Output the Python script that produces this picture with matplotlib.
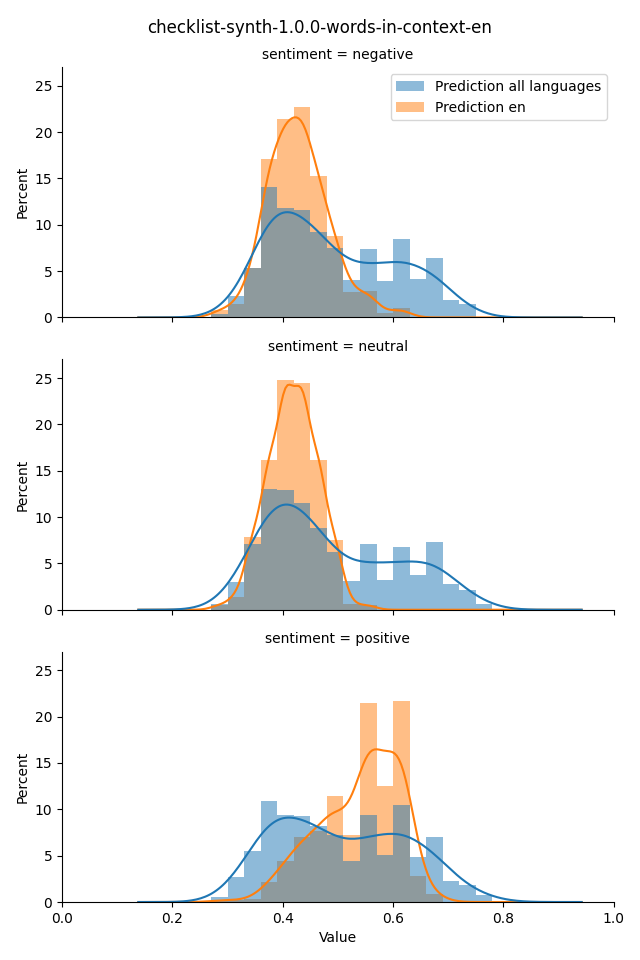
import numpy as np
import pandas as pd
import matplotlib
matplotlib.use("Agg")
import matplotlib.pyplot as plt
import seaborn as sns

# bins shared by every facet
bin_edges = [0.27, 0.30, 0.33, 0.36, 0.39, 0.42, 0.45, 0.48, 0.51, 0.54,
             0.57, 0.60, 0.63, 0.66, 0.69, 0.72, 0.75, 0.78, 0.81]

sentiments = ["negative", "neutral", "positive"]
hue_labels = ["Prediction all languages", "Prediction en"]

# percent per bin
all_negative = [0.4, 2.3, 5.3, 14.0, 11.8, 11.5, 9.2, 7.5, 4.0, 7.4, 3.9, 8.4, 4.1, 6.4, 1.9, 1.4, 0.0, 0.0]
en_negative = [0.8, 1.5, 5.4, 17.2, 21.5, 22.8, 15.3, 8.8, 2.8, 2.9, 0.5, 1.0, 0.0, 0.0, 0.0, 0.0, 0.0, 0.0]

all_neutral = [0.6, 2.9, 7.0, 12.8, 12.7, 11.3, 8.7, 6.1, 3.0, 7.0, 3.1, 6.7, 3.7, 7.2, 2.7, 2.1, 0.65, 0.0]
en_neutral = [0.5, 1.4, 7.8, 16.0, 24.5, 24.2, 16.0, 7.5, 0.6, 0.5, 0.0, 0.0, 0.0, 0.0, 0.0, 0.0, 0.0, 0.0]

all_positive = [0.5, 2.7, 5.5, 10.8, 9.3, 9.2, 8.1, 7.2, 4.4, 9.3, 5.0, 10.4, 4.8, 7.0, 2.3, 1.8, 0.7, 0.15]
en_positive = [0.2, 0.2, 0.3, 2.2, 4.4, 7.0, 7.7, 11.4, 7.2, 21.5, 12.5, 21.7, 2.8, 0.9, 0.0, 0.0, 0.0, 0.0]

all_values = [all_negative, all_neutral, all_positive]
en_values = [en_negative, en_neutral, en_positive]

edges = np.array(bin_edges)
centers = (edges[:-1] + edges[1:]) / 2

frames = []
for s, a, e in zip(sentiments, all_values, en_values):
    frames.append(pd.DataFrame({"Value": centers, "weight": a, "model": hue_labels[0], "sentiment": s}))
    frames.append(pd.DataFrame({"Value": centers, "weight": e, "model": hue_labels[1], "sentiment": s}))
df = pd.concat(frames, ignore_index=True)

fig, axes = plt.subplots(3, 1, figsize=(6.4, 9.6), sharex=True, sharey=True)
fig.subplots_adjust(left=0.097, right=0.959, bottom=0.0604, top=0.930, hspace=0.168)

for i, (ax, s) in enumerate(zip(axes, sentiments)):
    sub = df[df["sentiment"] == s]
    sns.histplot(data=sub, x="Value", weights="weight", hue="model", hue_order=hue_labels,
                 bins=bin_edges, stat="percent", common_norm=False, kde=True,
                 kde_kws={"bw_method": 0.31, "cut": 3}, lw=0, ax=ax, legend=(i == 0))
    ax.set_title(f"sentiment = {s}", fontsize=10)
    ax.set_ylabel("Percent")
    ax.set_xlabel("Value" if i == 2 else "")
    ax.tick_params(labelbottom=(i == 2))

sns.move_legend(axes[0], "upper right", title=None)
sns.despine(fig)

axes[0].set_xlim(0, 1)
axes[0].set_ylim(0, 27)
axes[0].set_yticks([0, 5, 10, 15, 20, 25])
axes[0].set_xticks([0.0, 0.2, 0.4, 0.6, 0.8, 1.0])

fig.suptitle("checklist-synth-1.0.0-words-in-context-en", fontsize=12, y=0.98)
fig.savefig("out.png", dpi=100)
